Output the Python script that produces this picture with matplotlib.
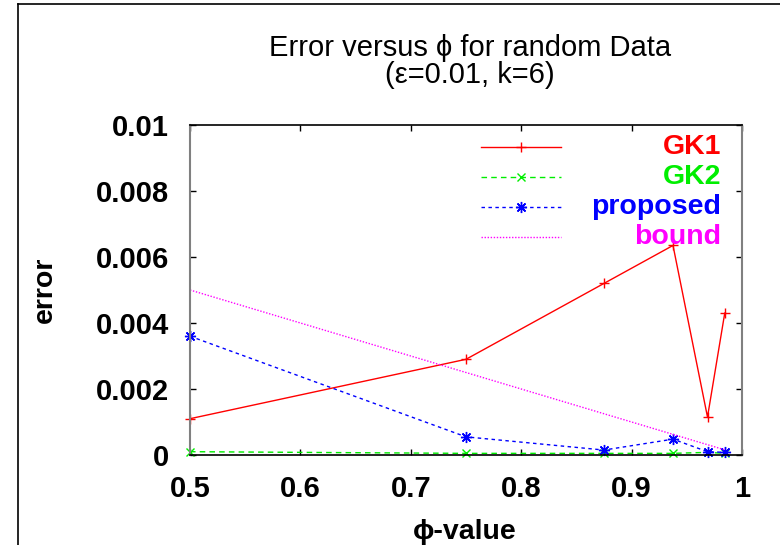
import matplotlib
matplotlib.use("Agg")
import matplotlib.pyplot as plt
from matplotlib.lines import Line2D

plt.rcParams['font.family'] = ['Liberation Sans', 'DejaVu Sans']

phi = [0.5, 0.75, 0.875, 0.9375, 0.96875, 0.984375]
gk1 = [0.0011, 0.0029, 0.0052, 0.00635, 0.00115, 0.0043]
gk2 = [0.0001, 0.00005, 0.00005, 0.00005, 0.00008, 0.00005]
proposed = [0.0036, 0.00055, 0.00015, 0.00048, 0.0001, 0.00008]
bound = [0.005, 0.0025, 0.00125, 0.000625, 0.0003125, 0.00015625]
labels = ["GK1", "GK2", "proposed", "bound"]
colors = ["#ff0000", "#00ee00", "#0000ff", "#ff00ff"]
xticks = [0.5, 0.6, 0.7, 0.8, 0.9, 1.0]
xticklabels = ["0.5", "0.6", "0.7", "0.8", "0.9", "1"]
yticks = [0, 0.002, 0.004, 0.006, 0.008, 0.01]
yticklabels = ["0", "0.002", "0.004", "0.006", "0.008", "0.01"]

W, H = 780, 545
fig = plt.figure(figsize=(W / 100, H / 100), dpi=100)
ax = fig.add_axes([190 / W, 1 - 455 / H, (742 - 190) / W, (455 - 125) / H])

series = [gk1, gk2, proposed, bound]
styles = [dict(ls='-', marker='+', ms=7),
          dict(ls=(0, (4, 3)), marker='x', ms=6),
          dict(ls=(0, (2.5, 2.5)), marker=(8, 2, 0), ms=8),
          dict(ls=(0, (1, 1.2)), marker=None, ms=0)]
for vals, c, st in zip(series, colors, styles):
    ax.plot(phi, vals, color=c, lw=1, ls=st['ls'], marker=st['marker'],
            ms=st['ms'], mew=1, clip_on=False)

ax.set_xlim(0.5, 1.0)
ax.set_ylim(0, 0.01)
ax.set_xticks(xticks)
ax.set_xticklabels(xticklabels)
ax.set_yticks(yticks)
ax.set_yticklabels(yticklabels)
ax.tick_params(direction='in', length=4.5, width=1, top=True, right=True,
               labelsize=21, colors='black')
ax.tick_params(axis='y', pad=15)
ax.tick_params(axis='x', pad=14.5)
for lab in ax.get_xticklabels() + ax.get_yticklabels():
    lab.set_fontweight('bold')

for s in ['left', 'right']:
    ax.spines[s].set_color('#808080')
    ax.spines[s].set_linewidth(1.5)
for s in ['top', 'bottom']:
    ax.spines[s].set_color('black')
    ax.spines[s].set_linewidth(1.2)

# legend drawn manually (right-aligned colored labels)
leg_y = [147, 177, 207, 237]
for (lab, c, st, yy) in zip(labels, colors, styles, leg_y):
    yf = 1 - yy / H
    fig.add_artist(Line2D([481 / W, 561 / W], [yf, yf], color=c, lw=1, ls=st['ls']))
    if st['marker'] is not None:
        fig.add_artist(Line2D([521 / W], [yf], color=c, marker=st['marker'],
                              ms=st['ms'], mew=1, ls='none'))
    fig.text(721 / W, yf, lab, color=c, fontsize=20.5, fontweight='bold',
             ha='right', va='center')

fig.text(470 / W, 1 - 48 / H, "Error versus ϕ for random Data", fontsize=21,
         ha='center', va='center')
fig.text(470 / W, 1 - 75 / H, "(ε=0.01, k=6)", fontsize=21,
         ha='center', va='center')
fig.text(45 / W, 1 - 290 / H, "error", fontsize=20.5, fontweight='bold',
         rotation=90, ha='center', va='center')
fig.text(465 / W, 1 - 532 / H, "ϕ-value", fontsize=20.5, fontweight='bold',
         ha='center', va='center')

# outer frame
fig.add_artist(Line2D([18 / W, 18 / W], [0, 1 - 4 / H], color='black', lw=1.2))
fig.add_artist(Line2D([18 / W, 1], [1 - 4 / H, 1 - 4 / H], color='black', lw=1.2))

fig.savefig("out.png", dpi=100)
